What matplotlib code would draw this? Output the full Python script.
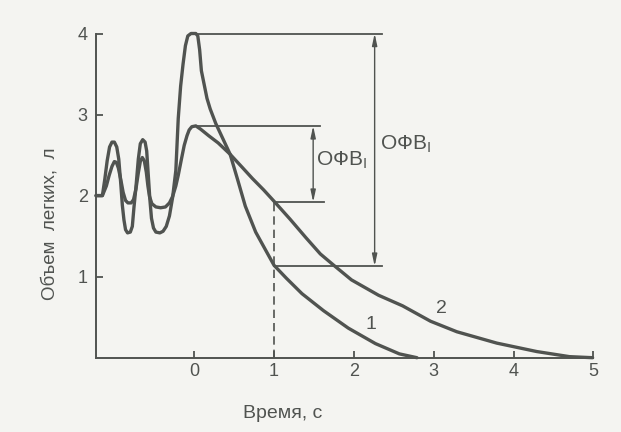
import matplotlib
matplotlib.use('Agg')
import matplotlib.pyplot as plt

plt.rcParams['font.family'] = ['Liberation Sans', 'DejaVu Sans']
plt.rcParams['mathtext.fontset'] = 'custom'
plt.rcParams['mathtext.rm'] = 'Liberation Sans'

# ---- data (time, s ; volume, l) ----
x_ticks = [0, 1, 2, 3, 4, 5]
y_ticks = [1, 2, 3, 4]

curve1_t = [-1.23, -1.15, -1.12, -1.09, -1.06, -1.03, -1.0, -0.97, -0.945, -0.92,
            -0.9, -0.88, -0.86, -0.835, -0.8, -0.775, -0.755, -0.73, -0.7, -0.675,
            -0.645, -0.615, -0.595, -0.575, -0.555, -0.535, -0.51, -0.48, -0.43, -0.39,
            -0.35, -0.31, -0.27, -0.23, -0.20, -0.17, -0.14, -0.11, -0.08, -0.04,
            0.02, 0.045, 0.068, 0.09, 0.16, 0.20, 0.27, 0.36, 0.45, 0.546,
            0.64, 0.77, 0.91, 1.0, 1.155, 1.35, 1.62, 1.93, 2.27, 2.57, 2.79]
curve1_v = [2.0, 2.0, 2.2, 2.43, 2.6, 2.66, 2.66, 2.6, 2.45, 2.15,
            1.88, 1.7, 1.58, 1.54, 1.55, 1.62, 1.85, 2.1, 2.45, 2.64,
            2.69, 2.66, 2.55, 2.25, 1.95, 1.72, 1.6, 1.55, 1.54, 1.56,
            1.62, 1.75, 1.98, 2.31, 2.95, 3.35, 3.62, 3.85, 3.97, 4.0,
            4.0, 3.97, 3.80, 3.54, 3.2, 3.07, 2.89, 2.70, 2.51, 2.19,
            1.87, 1.55, 1.30, 1.14, 0.98, 0.79, 0.58, 0.365, 0.174, 0.047, 0.0]

curve2_t = [-1.23, -1.15, -1.1, -1.065, -1.03, -1.0, -0.975, -0.95, -0.92, -0.89,
            -0.86, -0.83, -0.79, -0.76, -0.73, -0.7, -0.675, -0.65, -0.625, -0.6,
            -0.58, -0.56, -0.53, -0.48, -0.42, -0.36, -0.31, -0.27, -0.23, -0.20,
            -0.16, -0.125, -0.09, -0.063, -0.03, 0.02, 0.08, 0.18, 0.30, 0.45,
            0.60, 0.73, 0.87, 1.0, 1.2, 1.4, 1.58, 1.74, 1.97, 2.31,
            2.61, 2.96, 3.29, 3.79, 4.29, 4.70, 4.99]
curve2_v = [2.0, 2.0, 2.12, 2.25, 2.36, 2.42, 2.41, 2.34, 2.2, 2.04,
            1.94, 1.91, 1.91, 1.95, 2.08, 2.28, 2.42, 2.47, 2.43, 2.29,
            2.12, 1.99, 1.9, 1.86, 1.85, 1.86, 1.91, 1.99, 2.12, 2.25,
            2.45, 2.62, 2.74, 2.81, 2.85, 2.86, 2.82, 2.74, 2.65, 2.51,
            2.35, 2.21, 2.07, 1.93, 1.71, 1.48, 1.28, 1.147, 0.96, 0.77,
            0.64, 0.45, 0.32, 0.18, 0.076, 0.013, 0.0]

t_mark = 1.0                 # time of FEV1 measurement
big_levels = (4.0, 1.13)     # curve 1: peak and volume at 1 s
small_levels = (2.86, 1.92)  # curve 2: peak and volume at 1 s

bg = '#f4f4f1'
ink = '#505350'

fig = plt.figure(figsize=(6.21, 4.32), dpi=100)
fig.patch.set_facecolor(bg)
ax = fig.add_axes([96 / 621, 1 - 357.7 / 432, 497.4 / 621, (357.7 - 33.5) / 432])
ax.set_facecolor(bg)
ax.set_xlim(-1.23, 5.0)
ax.set_ylim(0, 4)
for s in ['top', 'right']:
    ax.spines[s].set_visible(False)
for s in ['left', 'bottom']:
    ax.spines[s].set_color(ink)
    ax.spines[s].set_linewidth(1.4)

ax.set_xticks(x_ticks)
ax.set_yticks(y_ticks)
ax.tick_params(direction='in', length=5, width=1.3, color=ink, labelcolor=ink,
               labelsize=13)
ax.tick_params(axis='y', pad=6)
ax.tick_params(axis='x', pad=4)

# curves
for tt, vv in [(curve1_t, curve1_v), (curve2_t, curve2_v)]:
    ax.plot(tt, vv, color=ink, lw=2.4, clip_on=False, solid_capstyle='round',
            solid_joinstyle='round')

# reference lines
ax.plot([0.0, 2.35], [big_levels[0]] * 2, color=ink, lw=1.3, clip_on=False)
ax.plot([t_mark, 2.35], [big_levels[1]] * 2, color=ink, lw=1.3, clip_on=False)
ax.plot([0.0, 1.58], [small_levels[0]] * 2, color=ink, lw=1.3, clip_on=False)
ax.plot([t_mark, 1.62], [small_levels[1]] * 2, color=ink, lw=1.3, clip_on=False)
ax.plot([t_mark, t_mark], [0, small_levels[1]], color=ink, lw=1.2,
        linestyle=(0, (5, 3)))

aprops = dict(arrowstyle='<|-|>,head_length=0.7,head_width=0.15', lw=1.0,
              color=ink, shrinkA=0, shrinkB=0)
ax.annotate('', xy=(2.26, big_levels[1]), xytext=(2.26, big_levels[0]),
            arrowprops=aprops, annotation_clip=False)
ax.annotate('', xy=(1.49, small_levels[1]), xytext=(1.49, small_levels[0]),
            arrowprops=aprops, annotation_clip=False)

ax.text(1.525, 2.44, 'ОФВ$_\\mathregular{I}$', fontsize=15, color=ink,
        ha='left', va='center')
ax.text(2.33, 2.63, 'ОФВ$_\\mathregular{I}$', fontsize=15, color=ink,
        ha='left', va='center')

ax.text(2.21, 0.41, '1', fontsize=14, color=ink, ha='center', va='center')
ax.text(3.10, 0.61, '2', fontsize=14, color=ink, ha='center', va='center')

fig.text(283 / 621, 1 - 414 / 432, 'Время, с', fontsize=14, color=ink,
         ha='center', va='center')
fig.text(50 / 621, 1 - 224 / 432, 'Объем  легких,  л', fontsize=13.5, color=ink,
         ha='center', va='center', rotation=90)

fig.savefig('out.png', dpi=100, facecolor=bg)
